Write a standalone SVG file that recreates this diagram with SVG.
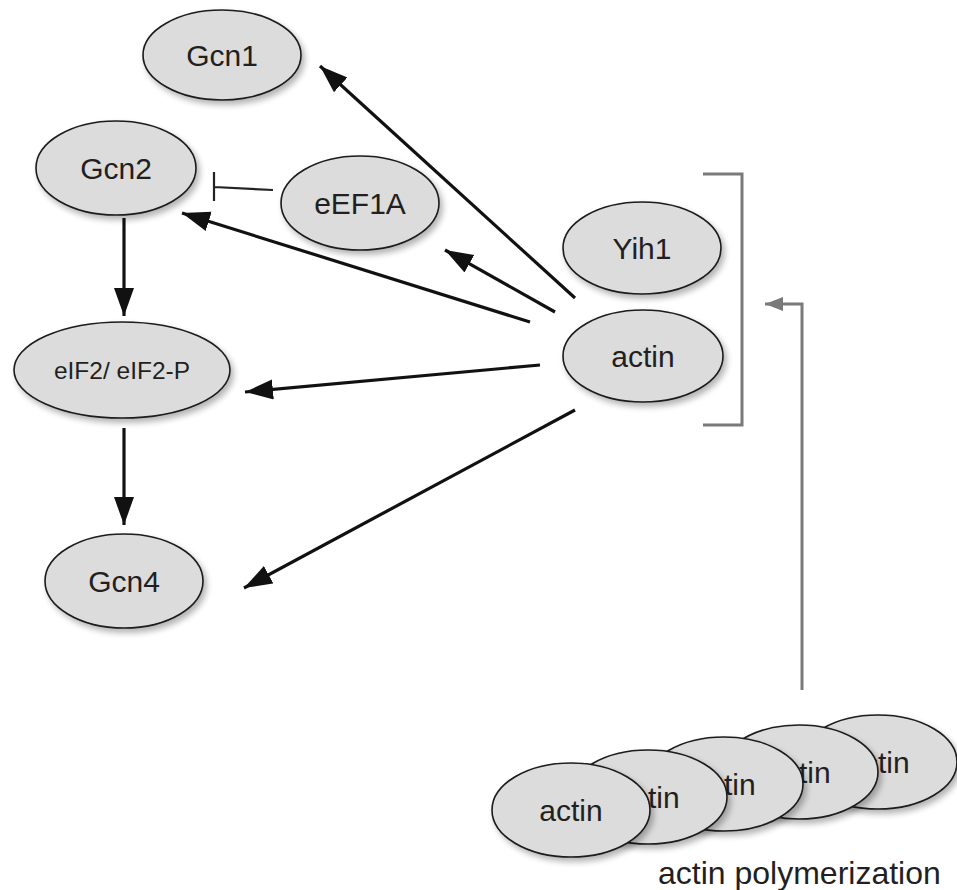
<svg xmlns="http://www.w3.org/2000/svg" width="957" height="890" viewBox="0 0 957 890">
<defs>
<filter id="sh" x="-20%" y="-20%" width="150%" height="150%">
<feGaussianBlur in="SourceAlpha" stdDeviation="3"/>
<feOffset dx="3" dy="4" result="b"/>
<feComponentTransfer><feFuncA type="linear" slope="0.3"/></feComponentTransfer>
<feMerge><feMergeNode/><feMergeNode in="SourceGraphic"/></feMerge>
</filter>
<marker id="ah" markerUnits="userSpaceOnUse" markerWidth="32" markerHeight="24" refX="28" refY="10" orient="auto">
<path d="M0,0 L28,10 L0,20 Z" fill="#111"/>
</marker>
<marker id="ag" markerUnits="userSpaceOnUse" markerWidth="22" markerHeight="18" refX="18" refY="7" orient="auto">
<path d="M0,0 L18,7 L0,14 Z" fill="#7a7a7a"/>
</marker>
</defs>
<style>
.n ellipse{fill:#dcdcdc;stroke:#1a1a1a;stroke-width:1.6;filter:url(#sh)}
.n text{font-family:"Liberation Sans",Arial,sans-serif;font-size:30px;fill:#231f20;text-anchor:middle}
.c line{stroke:#111;stroke-width:3.2;marker-end:url(#ah)}
.g{stroke:#7a7a7a;stroke-width:3;fill:none}
</style>
<rect width="957" height="890" fill="#fff"/>
<g id="connectors">
<g class="c">
<line x1="575" y1="298" x2="320" y2="66"/>
<line x1="555" y1="312" x2="445" y2="250"/>
<line x1="530" y1="322" x2="182" y2="213"/>
<line x1="540" y1="365" x2="245" y2="392"/>
<line x1="575" y1="410" x2="244" y2="588"/>
<line x1="124" y1="218" x2="124" y2="316"/>
<line x1="124" y1="428" x2="124" y2="525"/>
</g>
<path d="M273,190 L214,187 M214,172 L214,201" stroke="#222" stroke-width="2.2" fill="none"/>
<path class="g" d="M703,174 L742,174 L742,425 L703,425"/>
<path class="g" d="M802,690 L802,304 L765,304" marker-end="url(#ag)"/>
</g>
<g id="gcn1" class="n"><ellipse cx="222" cy="55" rx="79" ry="45"/><text x="222" y="66">Gcn1</text></g>
<g id="gcn2" class="n"><ellipse cx="116" cy="168" rx="80" ry="47"/><text x="116" y="179">Gcn2</text></g>
<g id="eef1a" class="n"><ellipse cx="360" cy="203" rx="79" ry="47"/><text x="360" y="214">eEF1A</text></g>
<g id="eif2" class="n"><ellipse cx="122" cy="370" rx="108" ry="48"/><text x="122" y="379" style="font-size:24.5px">eIF2/ eIF2-P</text></g>
<g id="gcn4" class="n"><ellipse cx="124" cy="581" rx="79" ry="47"/><text x="124" y="592">Gcn4</text></g>
<g id="yih1" class="n"><ellipse cx="642" cy="248" rx="79" ry="46"/><text x="642" y="259">Yih1</text></g>
<g id="actin" class="n"><ellipse cx="643" cy="356" rx="80" ry="46"/><text x="643" y="367">actin</text></g>
<g id="actin5" class="n"><ellipse cx="878" cy="762" rx="79" ry="47"/><text x="878" y="773">actin</text></g>
<g id="actin4" class="n"><ellipse cx="799" cy="772" rx="79" ry="47"/><text x="799" y="783">actin</text></g>
<g id="actin3" class="n"><ellipse cx="724" cy="784" rx="79" ry="47"/><text x="724" y="795">actin</text></g>
<g id="actin2" class="n"><ellipse cx="648" cy="797" rx="79" ry="47"/><text x="648" y="808">actin</text></g>
<g id="actin1" class="n"><ellipse cx="571" cy="810" rx="79" ry="47"/><text x="571" y="821">actin</text></g>
<text x="658" y="884" font-family="Liberation Sans,Arial,sans-serif" font-size="32" fill="#231f20">actin polymerization</text>
</svg>
